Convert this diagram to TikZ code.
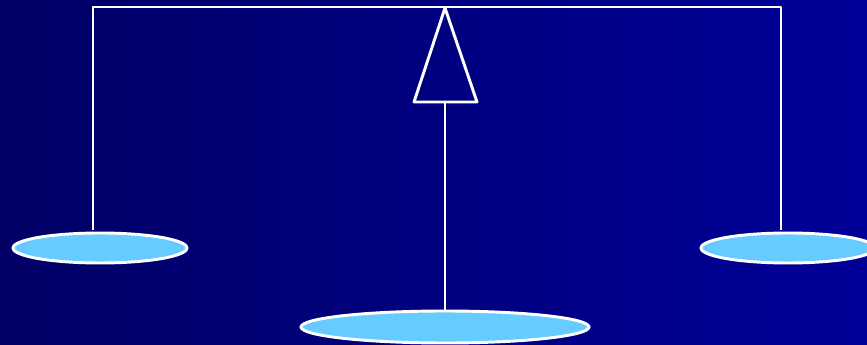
\documentclass[tikz,border=0pt]{standalone}
\usepackage{xcolor}
\usepackage{tikz}
\usetikzlibrary{shapes.geometric, positioning, calc}
\definecolor{bgleft}{RGB}{0,0,102}
\definecolor{bgright}{RGB}{0,0,153}
\definecolor{panblue}{RGB}{102,204,255}

\begin{document}
\begin{tikzpicture}[x=0.03cm, y=-0.03cm,
    beam/.style={white, line width=2.5pt, line join=round},
    pan/.style={ellipse, draw=white, line width=2.5pt, fill=panblue, inner sep=0pt}]
  % background
  \shade[left color=bgleft, right color=bgright] (0,0) rectangle (867,345);
  \clip (0,0) rectangle (867,345);
  % pans
  \node[pan, minimum width=5.22cm, minimum height=0.9cm] (leftpan) at (100,248) {};
  \node[pan, minimum width=5.22cm, minimum height=0.9cm] (rightpan) at (788,248) {};
  \node[pan, minimum width=8.64cm, minimum height=0.96cm] (basepan) at (445,327) {};
  % beam and hangers
  \coordinate (lefttop) at (93,7);
  \coordinate (righttop) at (781,7);
  \coordinate (pivot) at (445,8);
  \coordinate (trileft) at (414,102);
  \coordinate (triright) at (477,102);
  \coordinate (trimid) at (445,102);
  \draw[beam] ($(leftpan.north -| lefttop)+(0,-2)$) -- (lefttop) -- (righttop) -- ($(rightpan.north -| righttop)+(0,-2)$);
  % fulcrum
  \draw[beam] (pivot) -- (trileft) -- (triright) -- cycle;
  \draw[beam] (trimid) -- (basepan.north);
\end{tikzpicture}
\end{document}
